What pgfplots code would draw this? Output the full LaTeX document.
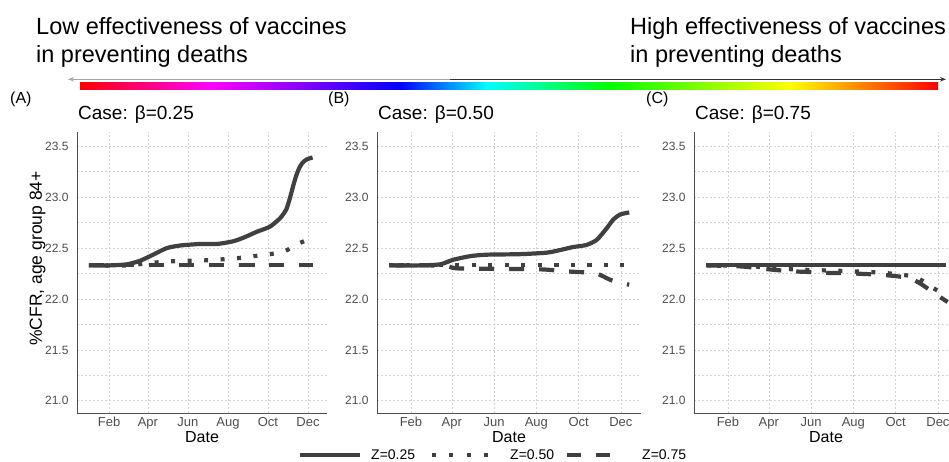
\documentclass[border=0pt]{standalone}
\usepackage{fontspec}
\setmainfont{Liberation Sans}
\usepackage{pgfplots}
\pgfplotsset{compat=1.18}
\usetikzlibrary{arrows.meta}

\definecolor{linegray}{RGB}{64,64,64}
\definecolor{ticktext}{RGB}{77,77,77}
\definecolor{gridgray}{RGB}{210,210,210}

\pgfplotsset{
  cfrpanel/.style={
    scale only axis, height=281pt,
    xmin=-17, xmax=364, ymin=20.88, ymax=23.64,
    axis x line*=bottom, axis y line*=left,
    axis line style={-, draw=ticktext, line width=0.9pt},
    xtick={32,91,152,213,274,335},
    xticklabels={Feb,Apr,Jun,Aug,Oct,Dec},
    ytick={21,21.5,...,23.5},
    minor ytick={21.25,21.75,...,23.25},
    major tick length=0pt, minor tick length=0pt,
    xmajorgrids, ymajorgrids, yminorgrids,
    grid style={gridgray, dash pattern=on 2pt off 2pt, line width=0.6pt},
    minor grid style={gridgray, dash pattern=on 2pt off 2pt, line width=0.6pt},
    tick label style={text=ticktext},
    xticklabel style={font=\fontsize{13}{15}\selectfont, yshift=-1pt},
    /pgf/number format/assume math mode=true,
    yticklabel style={font=\fontsize{12}{14}\selectfont, xshift=-5pt, /pgf/number format/fixed,
      /pgf/number format/fixed zerofill, /pgf/number format/precision=1},
    xlabel={Date},
    xlabel style={font=\fontsize{16}{18}\selectfont, at={(axis description cs:0.5,0)}, anchor=center, yshift=-24pt},
  },
  z25/.style={linegray, line width=4.2pt, smooth, tension=0.4},
  z50/.style={linegray, line width=4.2pt, smooth, tension=0.4, dash pattern=on 4pt off 12.5pt},
  z75/.style={linegray, line width=4.2pt, smooth, tension=0.4, dash pattern=on 15pt off 15pt},
}

\begin{document}
\begin{tikzpicture}

\begin{scope}[x=1pt, y=1pt]
% header text, arrow and colour bar
\node[anchor=base west, inner sep=0, font=\fontsize{23.5}{28}\selectfont] at (36,426) {Low effectiveness of vaccines};
\node[anchor=base west, inner sep=0, font=\fontsize{23.5}{28}\selectfont] at (36,398) {in preventing deaths};
\node[anchor=base west, inner sep=0, font=\fontsize{23.5}{28}\selectfont] at (630,426) {High effectiveness of vaccines};
\node[anchor=base west, inner sep=0, font=\fontsize{23.5}{28}\selectfont] at (630,398) {in preventing deaths};

\draw[gray!70, line width=1.2pt, -{Stealth[length=6pt,width=4.5pt]}] (450,381.7) -- (68,381.7);
\draw[black!80, line width=1.2pt, -{Stealth[length=6pt,width=4.5pt]}] (450,381.7) -- (946,381.7);

\shade[left color=red, right color=magenta] (80,371.7) rectangle (210.5,378.3);
\shade[left color=magenta, right color=blue] (210,371.7) rectangle (400.5,378.3);
\shade[left color=blue, right color=cyan] (400,371.7) rectangle (487.5,378.3);
\shade[left color=cyan, right color=green] (487,371.7) rectangle (608.5,378.3);
\shade[left color=green, right color=yellow] (608,371.7) rectangle (790.5,378.3);
\shade[left color=yellow, right color=red] (790,371.7) rectangle (938,378.3);

% panel tags and titles
\node[anchor=west, inner sep=0, font=\fontsize{16}{18}\selectfont] at (10,362) {(A)};
\node[anchor=west, inner sep=0, font=\fontsize{16}{18}\selectfont] at (328,362) {(B)};
\node[anchor=west, inner sep=0, font=\fontsize{16}{18}\selectfont] at (646,362) {(C)};
\node[anchor=base west, inner sep=0, font=\fontsize{19}{22}\selectfont] at (78,341.7) {Case: β=0.25};
\node[anchor=base west, inner sep=0, font=\fontsize{19}{22}\selectfont] at (378,341.7) {Case: β=0.50};
\node[anchor=base west, inner sep=0, font=\fontsize{19}{22}\selectfont] at (695,341.7) {Case: β=0.75};

% legend
\draw[linegray, line width=4.2pt] (300,6) -- (360,6);
\node[anchor=west, inner sep=0, font=\fontsize{14}{16}\selectfont] at (371,6) {Z=0.25};
\draw[linegray, line width=4.2pt, dash pattern=on 4pt off 13.3pt] (432,6) -- (488,6);
\node[anchor=west, inner sep=0, font=\fontsize{14}{16}\selectfont] at (510,6) {Z=0.50};
\draw[linegray, line width=4.2pt, dash pattern=on 14pt off 15pt] (567,6) -- (610,6);
\node[anchor=west, inner sep=0, font=\fontsize{14}{16}\selectfont] at (642,6) {Z=0.75};
\end{scope}

% (A) beta = 0.25
\begin{axis}[cfrpanel, width=250pt, at={(77pt,48pt)}, anchor=south west,
  ylabel={\%CFR, age group 84+},
  ylabel style={font=\fontsize{17.5}{20}\selectfont, at={(axis description cs:-0.158,0.55)}, anchor=center}]
\addplot[z75] coordinates {(1,22.33) (100,22.33) (200,22.33) (300,22.33) (342,22.33)};
\addplot[z50] coordinates {(1,22.33) (60,22.33) (89,22.35) (127,22.37) (181,22.38) (226,22.40)
  (252,22.42) (277,22.44) (300,22.47) (319,22.54) (342,22.60)};
\addplot[z25] coordinates {(1,22.33) (33,22.33) (59,22.34) (79,22.375) (99,22.435) (120,22.50)
  (140,22.525) (170,22.54) (196,22.54) (220,22.565) (236,22.60) (257,22.66) (277,22.71)
  (292,22.79) (297,22.83) (302,22.88) (307,22.98) (312,23.10) (317,23.21) (322,23.29)
  (327,23.34) (333,23.37) (342,23.39)};
\end{axis}

% (B) beta = 0.50
\begin{axis}[cfrpanel, width=264pt, at={(377pt,48pt)}, anchor=south west]
\addplot[z75] coordinates {(1,22.33) (60,22.33) (85,22.32) (100,22.30) (170,22.295) (223,22.29)
  (249,22.275) (271,22.265) (298,22.255) (319,22.19) (333,22.16) (347,22.14)};
\addplot[z50] coordinates {(1,22.33) (100,22.33) (200,22.33) (300,22.33) (347,22.33)};
\addplot[z25] coordinates {(1,22.33) (45,22.33) (74,22.34) (93,22.385) (117,22.42) (141,22.435)
  (189,22.44) (228,22.455) (247,22.48) (266,22.51) (285,22.53) (300,22.58) (314,22.69)
  (324,22.78) (334,22.83) (347,22.85)};
\end{axis}

% (C) beta = 0.75
\begin{axis}[cfrpanel, width=264pt, at={(694pt,48pt)}, anchor=south west]
\addplot[z75] coordinates {(1,22.33) (50,22.32) (80,22.30) (100,22.285) (130,22.27) (150,22.265)
  (180,22.255) (200,22.255) (230,22.245) (250,22.24) (280,22.22) (296,22.20) (310,22.15)
  (325,22.08) (338,22.02) (349,21.97)};
\addplot[z50] coordinates {(1,22.33) (50,22.325) (80,22.315) (100,22.30) (150,22.285) (200,22.275)
  (250,22.26) (280,22.24) (300,22.22) (315,22.17) (325,22.12) (338,22.07) (349,22.04)};
\addplot[z25] coordinates {(1,22.33) (100,22.33) (200,22.33) (300,22.33) (347,22.33)};
\end{axis}

\pgfresetboundingbox
\path (0pt,0pt) rectangle (949pt,461pt);
\end{tikzpicture}
\end{document}
